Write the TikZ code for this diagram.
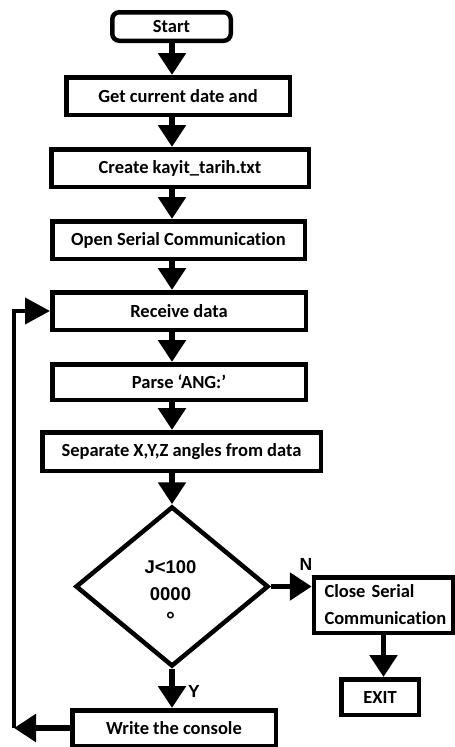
\documentclass[tikz,border=0pt]{standalone}
\usepackage{fontspec}
\setmainfont{Carlito}[Ligatures=NoCommon]
\newfontfamily\arialf{Liberation Sans}
\usetikzlibrary{arrows.meta,shapes.geometric}
\begin{document}
\begin{tikzpicture}[x=1pt,y=-1pt,
  box/.style={draw, line width=4.5pt, font=\fontsize{18.5}{27}\selectfont\bfseries, inner sep=0pt},
  arr/.style={line width=5.5pt, -{Triangle[width=27pt,length=22pt]}},
  looparr/.style={line width=4pt, -{Triangle[width=26pt,length=25pt]}},
  yn/.style={font=\arialf\fontsize{17.5}{20}\selectfont\bfseries, inner sep=0pt},
]
\useasboundingbox (0,0) rectangle (455,747);
\coordinate (ax) at (172,0);
\node[box, rounded corners=7pt, minimum width=118.5pt, minimum height=28.5pt] (start) at (171.5,26.5) {Start};
\node[box, minimum width=223.5pt, minimum height=37.5pt] (get) at (178,96) {Get current date and};
\node[box, minimum width=257.5pt, minimum height=37.5pt] (create) at (180,168) {Create kayit\_tarih.txt};
\node[box, minimum width=252.5pt, minimum height=37.5pt] (open) at (178.5,240) {Open Serial Communication};
\node[box, minimum width=253.5pt, minimum height=37.5pt] (receive) at (179,311) {Receive data};
\node[box, minimum width=253.5pt, minimum height=35.5pt] (parse) at (179,382) {Parse ‘ANG:’};
\node[box, minimum width=278.5pt, minimum height=38.5pt] (separate) at (181.5,451.5) {Separate X,Y,Z angles from data};
\node[draw, line width=4.5pt, diamond, minimum width=193pt, minimum height=160pt, inner sep=0pt] (dia) at (172,586.5) {};
\node[font=\arialf\fontsize{18.5}{27}\selectfont\bfseries, align=center, inner sep=0pt] (dtext) at (170.5,594) {J<100\\0000\\{\fontsize{22}{27}\selectfont °}};
\node[box, minimum width=138.5pt, minimum height=55.5pt, align=left, text width=118pt, inner xsep=10.5pt] (close) at (383.5,605) {Close Serial\\Communication};
\node[box, minimum width=77.5pt, minimum height=35.5pt] (exit) at (380,697) {EXIT};
\node[box, minimum width=203.5pt, minimum height=35.5pt] (write) at (174,728) {Write the console};
\draw[arr] (start.south -| ax) -- (get.north -| ax);
\draw[arr] (get.south -| ax) -- (create.north -| ax);
\draw[arr] (create.south -| ax) -- (open.north -| ax);
\draw[arr] (open.south -| ax) -- (receive.north -| ax);
\draw[arr] (receive.south -| ax) -- (parse.north -| ax);
\draw[arr] (parse.south -| ax) -- (separate.north -| ax);
\draw[arr] (separate.south -| ax) -- (dia.north);
\draw[arr] (dia.south) -- (write.north -| dia.south);
\draw[arr] (dia.east) -- (close.west |- dia.east);
\draw[arr] (close.south) -- (exit.north -| close.south);
\coordinate (lb) at (14,728);
\draw[arr] (write.west) -- (lb);
\draw[looparr] (lb) |- (receive.west);
\node[yn] (ylab) at (194,691) {Y};
\node[yn] (nlab) at (306,564) {N};
\end{tikzpicture}
\end{document}
